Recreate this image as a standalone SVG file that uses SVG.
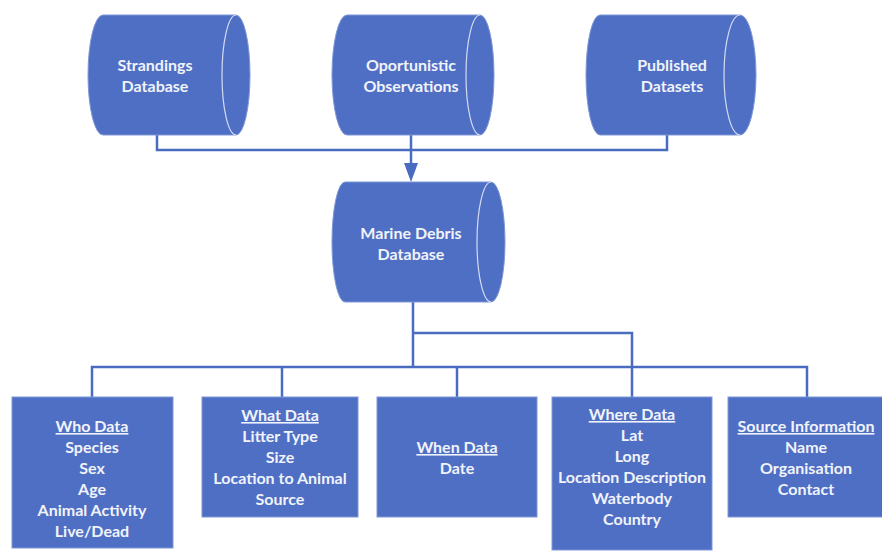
<svg xmlns="http://www.w3.org/2000/svg" width="882" height="552" viewBox="0 0 882 552">
<defs>
<style>
.shape{fill:#4f6fc4;stroke:#7f97d6;stroke-width:1}
.cap{fill:none;stroke:#d4dcf2;stroke-width:1.2}
.t{font-family:Lato,"Open Sans",sans-serif;font-weight:bold;font-size:16px;fill:#f1f3fa;text-anchor:middle}
.h{text-decoration:underline}
.c{fill:none;stroke:#4a6cc0;stroke-width:2.5}
</style>
</defs>
<g id="connectors">
<path class="c" d="M157,135 V150 H667 V135"/>
<path class="c" d="M411,135 V163"/>
<path d="M404,163 L418,163 L411,182 Z" fill="#4a6cc0"/>
<path class="c" d="M413,302 V367"/>
<path class="c" d="M413,333 H632 V397"/>
<path class="c" d="M92,397 V367 H807 V397"/>
<path class="c" d="M282,367 V397"/>
<path class="c" d="M457,367 V397"/>
</g>
<g id="strandings">
<path class="shape" d="M103,15 H236 A14,60 0 0 1 236,135 H103 A15,60 0 0 1 103,15 Z"/>
<path class="cap" d="M236,15 A14,60 0 0 0 236,135"/>
<text class="t" x="155" y="71">Strandings</text>
<text class="t" x="155" y="92">Database</text>
</g>
<g id="oportunistic">
<path class="shape" d="M347,15 H480 A14,60 0 0 1 480,135 H347 A15,60 0 0 1 347,15 Z"/>
<path class="cap" d="M480,15 A14,60 0 0 0 480,135"/>
<text class="t" x="411" y="71">Oportunistic</text>
<text class="t" x="411" y="92">Observations</text>
</g>
<g id="published">
<path class="shape" d="M600,15 H740 A16,60 0 0 1 740,135 H600 A14,60 0 0 1 600,15 Z"/>
<path class="cap" d="M740,15 A16,60 0 0 0 740,135"/>
<text class="t" x="672" y="71">Published</text>
<text class="t" x="672" y="92">Datasets</text>
</g>
<g id="marine">
<path class="shape" d="M345,182 H491 A14,60 0 0 1 491,302 H345 A13,60 0 0 1 345,182 Z"/>
<path class="cap" d="M491,182 A14,60 0 0 0 491,302"/>
<text class="t" x="411" y="239">Marine Debris</text>
<text class="t" x="411" y="260">Database</text>
</g>
<g id="who">
<rect class="shape" x="12" y="397" width="161" height="151"/>
<text class="t" x="92" y="432"><tspan class="h">Who Data</tspan></text>
<text class="t" x="92" y="453">Species</text>
<text class="t" x="92" y="474">Sex</text>
<text class="t" x="92" y="495">Age</text>
<text class="t" x="92" y="516">Animal Activity</text>
<text class="t" x="92" y="537">Live/Dead</text>
</g>
<g id="what">
<rect class="shape" x="202" y="397" width="156" height="120"/>
<text class="t" x="280" y="421"><tspan class="h">What Data</tspan></text>
<text class="t" x="280" y="442">Litter Type</text>
<text class="t" x="280" y="463">Size</text>
<text class="t" x="280" y="484">Location to Animal</text>
<text class="t" x="280" y="505">Source</text>
</g>
<g id="when">
<rect class="shape" x="377" y="397" width="160" height="120"/>
<text class="t" x="457" y="453"><tspan class="h">When Data</tspan></text>
<text class="t" x="457" y="474">Date</text>
</g>
<g id="where">
<rect class="shape" x="552" y="397" width="160" height="153"/>
<text class="t" x="632" y="420"><tspan class="h">Where Data</tspan></text>
<text class="t" x="632" y="441">Lat</text>
<text class="t" x="632" y="462">Long</text>
<text class="t" x="632" y="483">Location Description</text>
<text class="t" x="632" y="504">Waterbody</text>
<text class="t" x="632" y="525">Country</text>
</g>
<g id="source">
<rect class="shape" x="728" y="397" width="156" height="120"/>
<text class="t" x="806" y="432"><tspan class="h">Source Information</tspan></text>
<text class="t" x="806" y="453">Name</text>
<text class="t" x="806" y="474">Organisation</text>
<text class="t" x="806" y="495">Contact</text>
</g>
</svg>
